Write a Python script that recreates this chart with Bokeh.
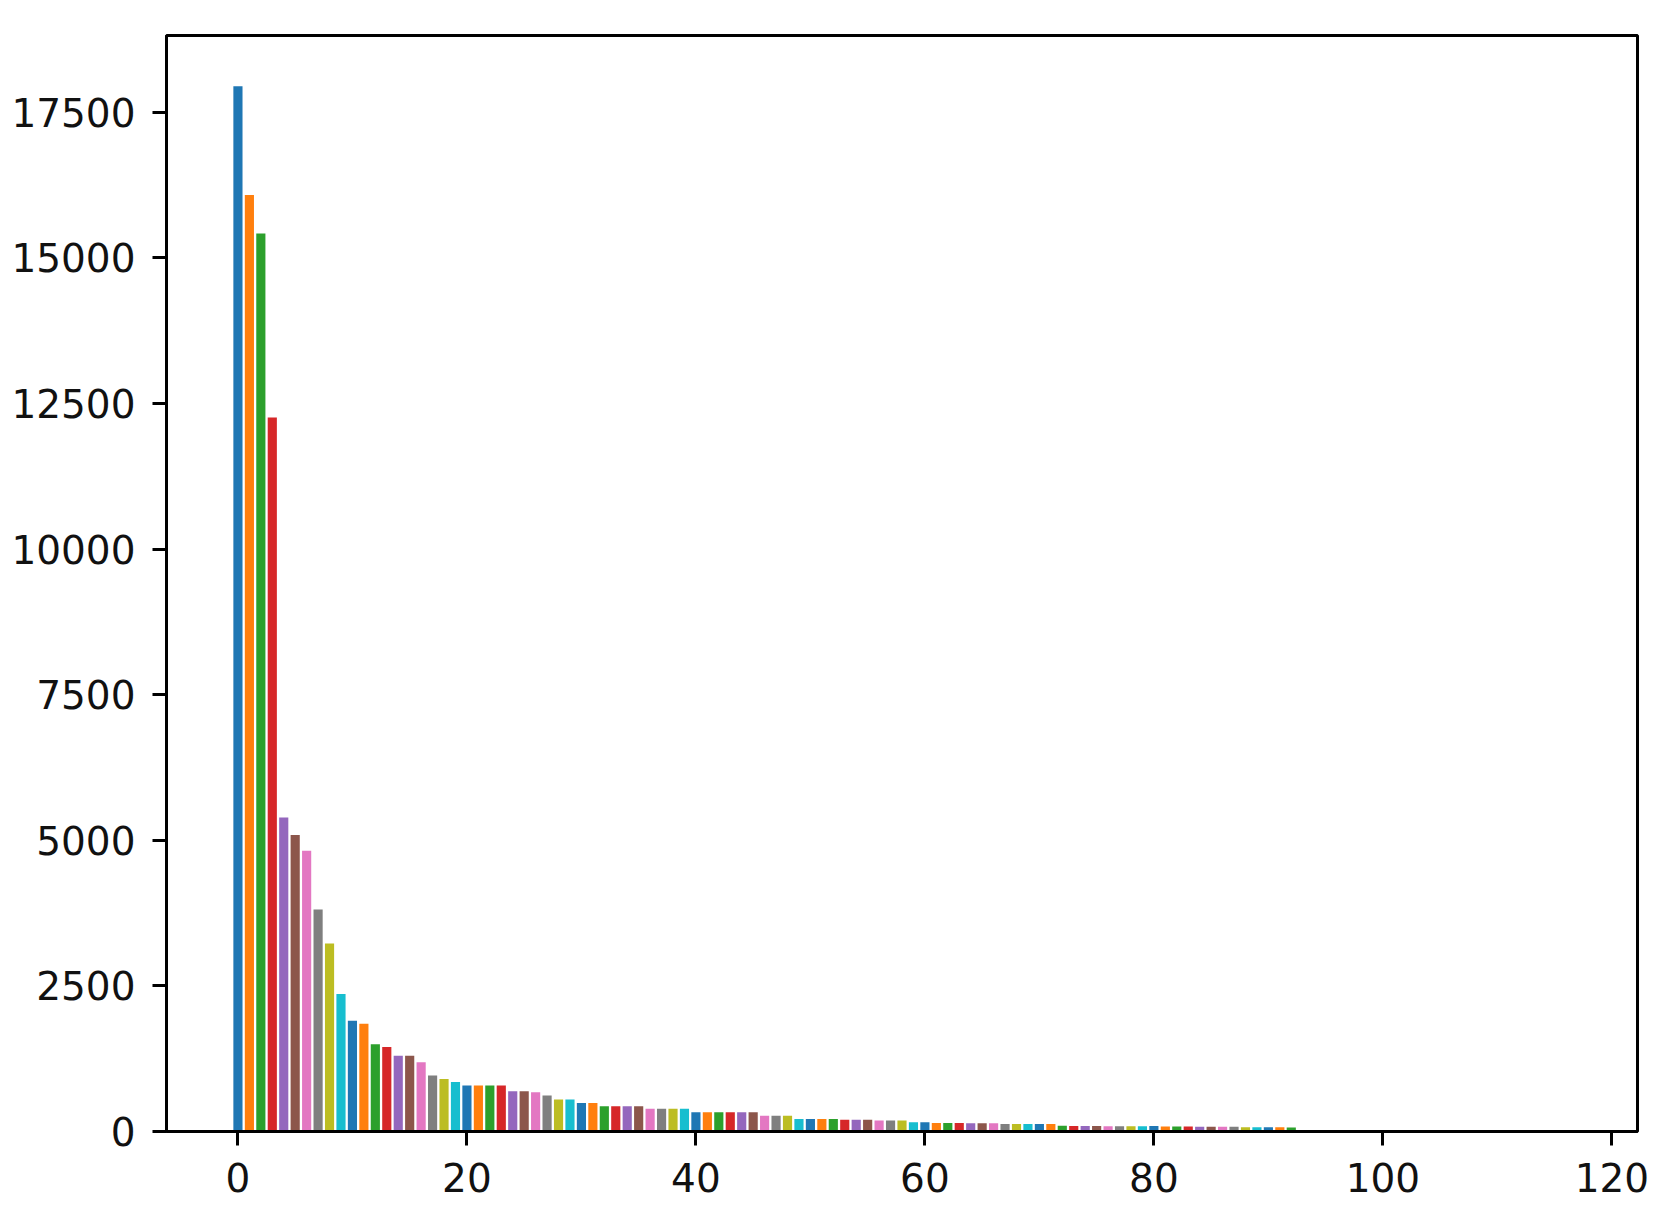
from bokeh.plotting import figure
from bokeh.models import Range1d, FixedTicker, ColumnDataSource
from bokeh.embed import file_html
from bokeh.resources import INLINE

# bar values (index 0..116)
values = [
    17950, 16080, 15420, 12260, 5390, 5090, 4820, 3810, 3230, 2360,
    1900, 1850, 1500, 1450, 1300, 1300, 1190, 960, 900, 850,
    790, 790, 790, 790, 690, 690, 675, 620, 550, 550,
    490, 490, 435, 435, 435, 435, 390, 390, 390, 390,
    330, 330, 330, 330, 330, 330, 270, 270, 270, 215,
    215, 215, 215, 200, 200, 200, 190, 190, 190, 160,
    160, 145, 145, 145, 140, 140, 140, 130, 130, 130,
    130, 130, 100, 95, 95, 95, 90, 90, 90, 90,
    95, 85, 85, 85, 80, 80, 80, 80, 75, 75,
    75, 75, 70, 25, 25, 24, 22, 20, 20, 18,
    18, 16, 15, 14, 13, 12, 11, 10, 10, 9,
    8, 8, 7, 6, 6, 5, 5,
]
x_ticks = [0, 20, 40, 60, 80, 100, 120]
y_ticks = [0, 2500, 5000, 7500, 10000, 12500, 15000, 17500]
palette = ['#1f77b4', '#ff7f0e', '#2ca02c', '#d62728', '#9467bd',
           '#8c564b', '#e377c2', '#7f7f7f', '#bcbd22', '#17becf']

idx = list(range(len(values)))
colors = [palette[i % 10] for i in idx]
src = ColumnDataSource(dict(x=idx, top=values, color=colors))

n = len(values)
span = (n - 1 + 0.8)
p = figure(
    output_backend="svg", toolbar_location=None,
    frame_width=1471, frame_height=1096,
    min_border_left=166, min_border_top=35, min_border_right=12, min_border_bottom=72,
    x_range=Range1d(-0.4 - 0.05 * span, n - 1 + 0.4 + 0.05 * span),
    y_range=Range1d(0, 18820),
)
p.vbar(x="x", top="top", width=0.8, bottom=0, color="color", source=src, line_color=None)

p.xgrid.visible = False
p.ygrid.visible = False
p.background_fill_color = "white"
p.border_fill_color = "white"
p.outline_line_color = "black"
p.outline_line_width = 3
p.outline_line_alpha = 1

for ax in (p.xaxis[0], p.yaxis[0]):
    ax.axis_line_width = 3
    ax.axis_line_color = "black"
    ax.major_tick_line_width = 3
    ax.major_tick_line_color = "black"
    ax.major_tick_out = 14
    ax.major_tick_in = 0
    ax.minor_tick_line_color = None
    ax.major_label_text_font = "DejaVu Sans"
    ax.major_label_text_font_size = "39px"
    ax.major_label_text_color = "#111111"

p.xaxis[0].ticker = FixedTicker(ticks=x_ticks)
p.yaxis[0].ticker = FixedTicker(ticks=y_ticks)
p.xaxis[0].major_label_standoff = 17
p.yaxis[0].major_label_standoff = 17

open("out.html", "w").write(file_html(p, INLINE))
